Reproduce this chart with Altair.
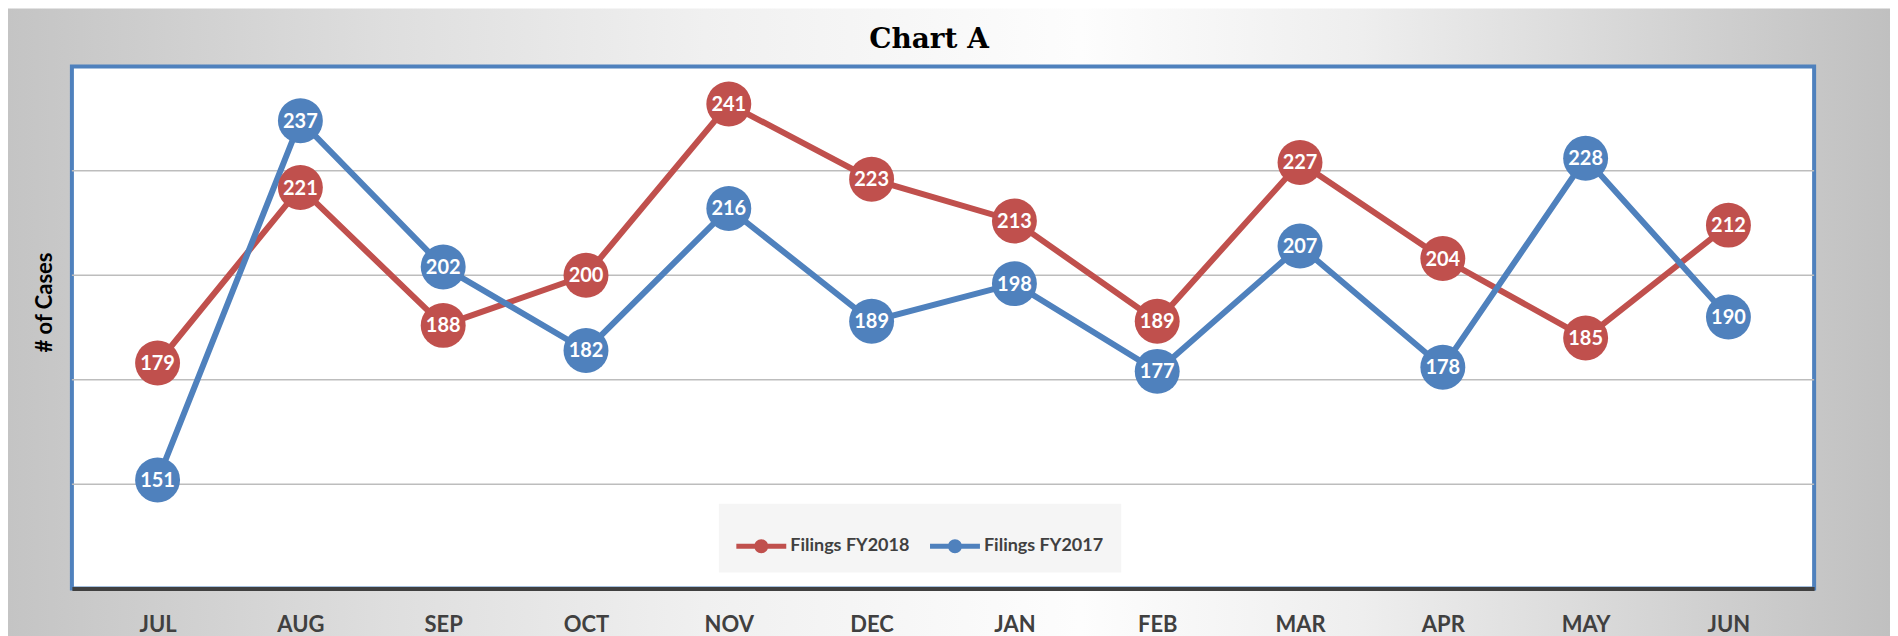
import altair as alt
import pandas as pd

months = ["JUL", "AUG", "SEP", "OCT", "NOV", "DEC", "JAN", "FEB", "MAR", "APR", "MAY", "JUN"]
filings_fy2018 = [179, 221, 188, 200, 241, 223, 213, 189, 227, 204, 185, 212]
filings_fy2017 = [151, 237, 202, 182, 216, 189, 198, 177, 207, 178, 228, 190]
series_names = ["Filings FY2018", "Filings FY2017"]
series_colors = ["#C0504D", "#4F81BD"]
grid_values = [150, 175, 200, 225]
y_domain = [125, 250]

W, H = 1745, 523
PAD = {"left": 64, "top": 58, "right": 76, "bottom": 48}

rows = []
for name, vals in zip(series_names, [filings_fy2018, filings_fy2017]):
    for i, (m, v) in enumerate(zip(months, vals)):
        rows.append({"month": m, "idx": i, "series": name, "value": v})
df = pd.DataFrame(rows)

x_enc = alt.X(
    "month:N", sort=months,
    scale=alt.Scale(type="point", padding=0.6),
    axis=alt.Axis(title=None, ticks=False, labelAngle=0, labelFont="Lato",
                  labelFontSize=22, labelFontWeight="bold", labelColor="#404040",
                  labelPadding=26, domainColor="#404040", domainWidth=4,
                  grid=False, zindex=1),
)
y_scale = alt.Scale(domain=y_domain, nice=False, zero=False)
y_axis = alt.Axis(title="#  of Cases", labels=False, ticks=False, domain=False, grid=False,
                  titleFont="Lato", titleFontSize=22, titleFontWeight="bold",
                  titleColor="#000000", titleX=-27, titleY=236, titleAngle=270,
                  titleAlign="center", titleBaseline="middle", zindex=1)
color_scale = alt.Scale(domain=series_names, range=series_colors)

legend_path = ("M-1,-0.1L1,-0.1L1,0.1L-1,0.1Z "
               "M-0.28,0A0.28,0.28 0 1,1 0.28,0A0.28,0.28 0 1,1 -0.28,0Z")

bg_gradient = alt.LinearGradient(
    gradient="linear", x1=0, x2=1, y1=0, y2=0,
    stops=[
        alt.GradientStop(color="#c4c4c4", offset=0),
        alt.GradientStop(color="#dedede", offset=0.2),
        alt.GradientStop(color="#f0f0f0", offset=0.37),
        alt.GradientStop(color="#fdfdfd", offset=0.57),
        alt.GradientStop(color="#eeeeee", offset=0.72),
        alt.GradientStop(color="#c0c0c0", offset=1),
    ],
)

one = alt.Data(values=[{"k": 0}])

bg = alt.Chart(one).mark_rect(fill=bg_gradient).encode(
    x=alt.value(-PAD["left"]), x2=alt.value(W + PAD["right"]),
    y=alt.value(-PAD["top"]), y2=alt.value(H + PAD["bottom"]),
)

plot_rect = alt.Chart(one).mark_rect(fill="white", stroke="#4F81BD", strokeWidth=4).encode(
    x=alt.value(0), x2=alt.value(W), y=alt.value(0), y2=alt.value(H),
)

grid = alt.Chart(pd.DataFrame({"value": grid_values})).mark_rule(color="#bdbdbd", strokeWidth=1.5).encode(
    y=alt.Y("value:Q", scale=y_scale, axis=y_axis),
    x=alt.value(0), x2=alt.value(W),
)

base = alt.Chart(df)
y_enc = alt.Y("value:Q", scale=y_scale, axis=y_axis)

lines = base.mark_line(strokeWidth=6).encode(
    x=x_enc, y=y_enc,
    color=alt.Color("series:N", scale=color_scale, legend=None),
    order=alt.Order("idx:Q"),
)

points = base.mark_circle(size=2025, opacity=1).encode(
    x=x_enc, y=y_enc,
    color=alt.Color("series:N", scale=color_scale, legend=alt.Legend(
        title=None, orient="none", legendX=648, legendY=438, direction="horizontal",
        columns=2, fillColor="#F5F5F5", padding=17.5, symbolType=legend_path,
        symbolSize=2500, symbolStrokeWidth=0, symbolOpacity=1,
        labelFont="Lato", labelFontSize=18, labelFontWeight="bold",
        labelColor="#404040", labelOffset=4, columnPadding=20,
    )),
)

labels = base.mark_text(color="white", font="Lato", fontSize=20, fontWeight="bold",
                        align="center", baseline="middle", dy=1).encode(
    x=x_enc, y=y_enc, text="value:Q",
)

chart = alt.layer(bg, plot_rect, grid, lines, points, labels).resolve_legend(
    color="independent"
).properties(
    width=W, height=H,
    padding=PAD,
    autosize=alt.AutoSizeParams(type="none"),
    title=alt.TitleParams("Chart A", font="DejaVu Serif", fontSize=28, fontWeight="bold",
                          color="#000000", anchor="middle", baseline="alphabetic",
                          frame="group", offset=-68, dx=-14),
).configure_view(strokeWidth=0).configure_axisY(
    titleFont="Lato", titleFontSize=22, titleFontWeight="bold", titleColor="#000000",
)

chart.save("out.html", embed_options={"renderer": "svg", "actions": False})
